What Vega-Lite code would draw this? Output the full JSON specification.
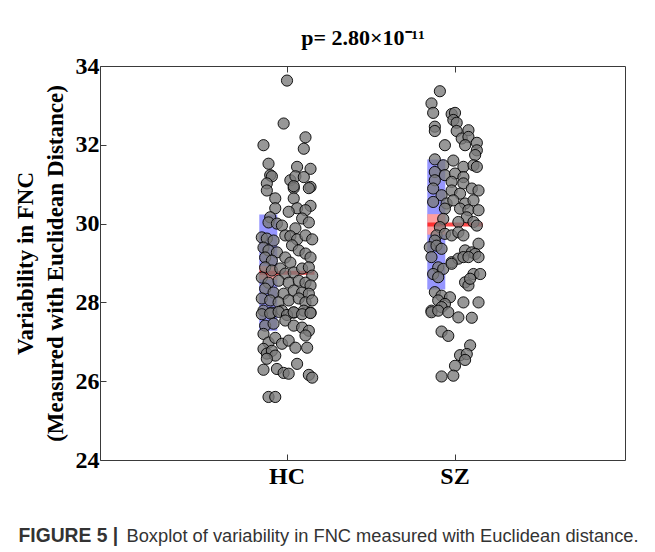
{
  "$schema": "https://vega.github.io/schema/vega-lite/v6.json",
  "width": 525,
  "height": 394,
  "autosize": {"type": "none"},
  "padding": {"left": 100, "top": 66, "right": 30, "bottom": 92},
  "background": "white",
  "config": {"view": {"stroke": "#3a3a3a", "strokeWidth": 1}, "font": "Liberation Serif"},
  "datasets": {
    "stats": [
      {"group": "HC", "mean": 28.75, "sd_lo": 27.28, "sd_hi": 30.23, "sem_lo": 28.58, "sem_hi": 28.92},
      {"group": "SZ", "mean": 29.98, "sd_lo": 28.33, "sd_hi": 31.63, "sem_lo": 29.72, "sem_hi": 30.24}
    ],
    "pts": [
      {"group": "HC", "jitter": 0.00, "value": 33.63},
      {"group": "HC", "jitter": -0.02, "value": 32.54},
      {"group": "HC", "jitter": -0.14, "value": 31.99},
      {"group": "HC", "jitter": 0.11, "value": 32.19},
      {"group": "HC", "jitter": 0.10, "value": 31.90},
      {"group": "HC", "jitter": -0.11, "value": 31.52},
      {"group": "HC", "jitter": -0.10, "value": 31.23},
      {"group": "HC", "jitter": -0.09, "value": 31.20},
      {"group": "HC", "jitter": 0.06, "value": 31.44},
      {"group": "HC", "jitter": 0.14, "value": 31.39},
      {"group": "HC", "jitter": 0.02, "value": 31.10},
      {"group": "HC", "jitter": 0.05, "value": 31.20},
      {"group": "HC", "jitter": 0.10, "value": 31.18},
      {"group": "HC", "jitter": -0.12, "value": 31.02},
      {"group": "HC", "jitter": 0.14, "value": 30.93},
      {"group": "HC", "jitter": 0.04, "value": 30.90},
      {"group": "HC", "jitter": -0.12, "value": 30.84},
      {"group": "HC", "jitter": -0.07, "value": 30.64},
      {"group": "HC", "jitter": 0.04, "value": 30.95},
      {"group": "HC", "jitter": 0.04, "value": 30.64},
      {"group": "HC", "jitter": 0.13, "value": 30.90},
      {"group": "HC", "jitter": -0.07, "value": 30.39},
      {"group": "HC", "jitter": -0.10, "value": 30.16},
      {"group": "HC", "jitter": 0.06, "value": 30.39},
      {"group": "HC", "jitter": 0.01, "value": 30.30},
      {"group": "HC", "jitter": 0.14, "value": 30.45},
      {"group": "HC", "jitter": 0.11, "value": 30.34},
      {"group": "HC", "jitter": -0.11, "value": 30.03},
      {"group": "HC", "jitter": -0.06, "value": 30.00},
      {"group": "HC", "jitter": -0.03, "value": 29.95},
      {"group": "HC", "jitter": 0.09, "value": 30.13},
      {"group": "HC", "jitter": 0.13, "value": 30.03},
      {"group": "HC", "jitter": 0.05, "value": 29.88},
      {"group": "HC", "jitter": -0.15, "value": 29.65},
      {"group": "HC", "jitter": -0.12, "value": 29.62},
      {"group": "HC", "jitter": -0.08, "value": 29.57},
      {"group": "HC", "jitter": -0.01, "value": 29.70},
      {"group": "HC", "jitter": 0.02, "value": 29.68},
      {"group": "HC", "jitter": 0.06, "value": 29.60},
      {"group": "HC", "jitter": 0.11, "value": 29.70},
      {"group": "HC", "jitter": 0.15, "value": 29.60},
      {"group": "HC", "jitter": -0.14, "value": 29.39},
      {"group": "HC", "jitter": -0.11, "value": 29.32},
      {"group": "HC", "jitter": -0.06, "value": 29.27},
      {"group": "HC", "jitter": -0.13, "value": 29.14},
      {"group": "HC", "jitter": -0.09, "value": 29.06},
      {"group": "HC", "jitter": 0.03, "value": 29.45},
      {"group": "HC", "jitter": 0.07, "value": 29.32},
      {"group": "HC", "jitter": 0.11, "value": 29.24},
      {"group": "HC", "jitter": 0.14, "value": 29.14},
      {"group": "HC", "jitter": -0.01, "value": 29.14},
      {"group": "HC", "jitter": 0.02, "value": 29.01},
      {"group": "HC", "jitter": -0.13, "value": 28.89},
      {"group": "HC", "jitter": -0.09, "value": 28.81},
      {"group": "HC", "jitter": -0.04, "value": 28.86},
      {"group": "HC", "jitter": -0.01, "value": 28.73},
      {"group": "HC", "jitter": 0.04, "value": 28.76},
      {"group": "HC", "jitter": 0.09, "value": 28.86},
      {"group": "HC", "jitter": 0.13, "value": 28.89},
      {"group": "HC", "jitter": 0.15, "value": 28.68},
      {"group": "HC", "jitter": -0.15, "value": 28.63},
      {"group": "HC", "jitter": -0.11, "value": 28.50},
      {"group": "HC", "jitter": -0.05, "value": 28.55},
      {"group": "HC", "jitter": 0.01, "value": 28.50},
      {"group": "HC", "jitter": 0.07, "value": 28.55},
      {"group": "HC", "jitter": 0.11, "value": 28.50},
      {"group": "HC", "jitter": 0.14, "value": 28.43},
      {"group": "HC", "jitter": -0.13, "value": 28.35},
      {"group": "HC", "jitter": -0.08, "value": 28.25},
      {"group": "HC", "jitter": -0.02, "value": 28.22},
      {"group": "HC", "jitter": 0.04, "value": 28.30},
      {"group": "HC", "jitter": 0.09, "value": 28.25},
      {"group": "HC", "jitter": 0.13, "value": 28.22},
      {"group": "HC", "jitter": -0.15, "value": 28.10},
      {"group": "HC", "jitter": -0.10, "value": 28.05},
      {"group": "HC", "jitter": -0.05, "value": 28.00},
      {"group": "HC", "jitter": 0.01, "value": 28.05},
      {"group": "HC", "jitter": 0.07, "value": 28.10},
      {"group": "HC", "jitter": 0.11, "value": 28.00},
      {"group": "HC", "jitter": 0.15, "value": 28.05},
      {"group": "HC", "jitter": -0.14, "value": 27.79},
      {"group": "HC", "jitter": -0.09, "value": 27.74},
      {"group": "HC", "jitter": -0.03, "value": 27.79},
      {"group": "HC", "jitter": 0.04, "value": 27.74},
      {"group": "HC", "jitter": 0.10, "value": 27.79},
      {"group": "HC", "jitter": 0.14, "value": 27.74},
      {"group": "HC", "jitter": -0.15, "value": 27.70},
      {"group": "HC", "jitter": -0.10, "value": 27.72},
      {"group": "HC", "jitter": -0.05, "value": 27.76},
      {"group": "HC", "jitter": 0.00, "value": 27.68},
      {"group": "HC", "jitter": 0.04, "value": 27.75},
      {"group": "HC", "jitter": 0.09, "value": 27.70},
      {"group": "HC", "jitter": 0.14, "value": 27.73},
      {"group": "HC", "jitter": -0.13, "value": 27.41},
      {"group": "HC", "jitter": -0.08, "value": 27.46},
      {"group": "HC", "jitter": -0.01, "value": 27.54},
      {"group": "HC", "jitter": 0.04, "value": 27.41},
      {"group": "HC", "jitter": 0.09, "value": 27.36},
      {"group": "HC", "jitter": 0.13, "value": 27.28},
      {"group": "HC", "jitter": -0.14, "value": 27.20},
      {"group": "HC", "jitter": -0.11, "value": 26.98},
      {"group": "HC", "jitter": -0.07, "value": 27.10},
      {"group": "HC", "jitter": -0.03, "value": 26.95},
      {"group": "HC", "jitter": 0.01, "value": 27.03},
      {"group": "HC", "jitter": 0.05, "value": 26.85},
      {"group": "HC", "jitter": 0.11, "value": 27.16},
      {"group": "HC", "jitter": 0.12, "value": 26.85},
      {"group": "HC", "jitter": -0.14, "value": 26.82},
      {"group": "HC", "jitter": -0.12, "value": 26.70},
      {"group": "HC", "jitter": -0.09, "value": 26.77},
      {"group": "HC", "jitter": -0.07, "value": 26.65},
      {"group": "HC", "jitter": -0.12, "value": 26.57},
      {"group": "HC", "jitter": 0.06, "value": 26.44},
      {"group": "HC", "jitter": -0.14, "value": 26.29},
      {"group": "HC", "jitter": -0.06, "value": 26.31},
      {"group": "HC", "jitter": -0.02, "value": 26.21},
      {"group": "HC", "jitter": 0.01, "value": 26.19},
      {"group": "HC", "jitter": 0.13, "value": 26.16},
      {"group": "HC", "jitter": 0.15, "value": 26.09},
      {"group": "HC", "jitter": -0.11, "value": 25.60},
      {"group": "HC", "jitter": -0.07, "value": 25.60},
      {"group": "SZ", "jitter": -0.09, "value": 33.36},
      {"group": "SZ", "jitter": -0.14, "value": 33.05},
      {"group": "SZ", "jitter": -0.13, "value": 32.81},
      {"group": "SZ", "jitter": -0.02, "value": 32.78},
      {"group": "SZ", "jitter": 0.00, "value": 32.81},
      {"group": "SZ", "jitter": -0.01, "value": 32.63},
      {"group": "SZ", "jitter": 0.01, "value": 32.56},
      {"group": "SZ", "jitter": -0.12, "value": 32.46},
      {"group": "SZ", "jitter": -0.12, "value": 32.35},
      {"group": "SZ", "jitter": 0.01, "value": 32.35},
      {"group": "SZ", "jitter": 0.08, "value": 32.37},
      {"group": "SZ", "jitter": 0.04, "value": 32.16},
      {"group": "SZ", "jitter": 0.08, "value": 32.20},
      {"group": "SZ", "jitter": -0.06, "value": 31.99},
      {"group": "SZ", "jitter": 0.06, "value": 31.99},
      {"group": "SZ", "jitter": 0.13, "value": 32.05},
      {"group": "SZ", "jitter": 0.13, "value": 31.86},
      {"group": "SZ", "jitter": 0.12, "value": 31.74},
      {"group": "SZ", "jitter": -0.12, "value": 31.63},
      {"group": "SZ", "jitter": -0.07, "value": 31.48},
      {"group": "SZ", "jitter": -0.01, "value": 31.60},
      {"group": "SZ", "jitter": 0.05, "value": 31.44},
      {"group": "SZ", "jitter": 0.11, "value": 31.48},
      {"group": "SZ", "jitter": -0.12, "value": 31.31},
      {"group": "SZ", "jitter": -0.06, "value": 31.23},
      {"group": "SZ", "jitter": 0.00, "value": 31.27},
      {"group": "SZ", "jitter": 0.05, "value": 31.18},
      {"group": "SZ", "jitter": 0.13, "value": 31.44},
      {"group": "SZ", "jitter": -0.12, "value": 31.10},
      {"group": "SZ", "jitter": -0.02, "value": 31.06},
      {"group": "SZ", "jitter": 0.05, "value": 31.02},
      {"group": "SZ", "jitter": -0.13, "value": 30.89},
      {"group": "SZ", "jitter": -0.08, "value": 30.72},
      {"group": "SZ", "jitter": -0.02, "value": 30.84},
      {"group": "SZ", "jitter": 0.03, "value": 30.76},
      {"group": "SZ", "jitter": 0.10, "value": 30.89},
      {"group": "SZ", "jitter": 0.14, "value": 30.84},
      {"group": "SZ", "jitter": -0.13, "value": 30.55},
      {"group": "SZ", "jitter": -0.05, "value": 30.51},
      {"group": "SZ", "jitter": -0.01, "value": 30.59},
      {"group": "SZ", "jitter": 0.06, "value": 30.51},
      {"group": "SZ", "jitter": 0.11, "value": 30.59},
      {"group": "SZ", "jitter": -0.06, "value": 30.38},
      {"group": "SZ", "jitter": 0.03, "value": 30.38},
      {"group": "SZ", "jitter": 0.08, "value": 30.34},
      {"group": "SZ", "jitter": 0.14, "value": 30.34},
      {"group": "SZ", "jitter": -0.07, "value": 30.12},
      {"group": "SZ", "jitter": -0.09, "value": 29.91},
      {"group": "SZ", "jitter": 0.07, "value": 30.16},
      {"group": "SZ", "jitter": 0.11, "value": 30.04},
      {"group": "SZ", "jitter": 0.13, "value": 29.95},
      {"group": "SZ", "jitter": 0.02, "value": 30.04},
      {"group": "SZ", "jitter": -0.11, "value": 29.70},
      {"group": "SZ", "jitter": -0.06, "value": 29.74},
      {"group": "SZ", "jitter": -0.02, "value": 29.70},
      {"group": "SZ", "jitter": 0.02, "value": 29.78},
      {"group": "SZ", "jitter": 0.05, "value": 29.70},
      {"group": "SZ", "jitter": -0.12, "value": 29.57},
      {"group": "SZ", "jitter": -0.15, "value": 29.40},
      {"group": "SZ", "jitter": -0.11, "value": 29.44},
      {"group": "SZ", "jitter": -0.08, "value": 29.36},
      {"group": "SZ", "jitter": 0.06, "value": 29.32},
      {"group": "SZ", "jitter": 0.10, "value": 29.27},
      {"group": "SZ", "jitter": 0.14, "value": 29.49},
      {"group": "SZ", "jitter": 0.12, "value": 29.23},
      {"group": "SZ", "jitter": -0.14, "value": 29.15},
      {"group": "SZ", "jitter": -0.02, "value": 29.02},
      {"group": "SZ", "jitter": 0.02, "value": 29.11},
      {"group": "SZ", "jitter": 0.05, "value": 29.15},
      {"group": "SZ", "jitter": 0.08, "value": 29.15},
      {"group": "SZ", "jitter": 0.14, "value": 29.15},
      {"group": "SZ", "jitter": -0.10, "value": 28.89},
      {"group": "SZ", "jitter": -0.07, "value": 28.85},
      {"group": "SZ", "jitter": -0.02, "value": 28.98},
      {"group": "SZ", "jitter": 0.11, "value": 28.72},
      {"group": "SZ", "jitter": 0.15, "value": 28.72},
      {"group": "SZ", "jitter": -0.13, "value": 28.72},
      {"group": "SZ", "jitter": -0.10, "value": 28.64},
      {"group": "SZ", "jitter": 0.06, "value": 28.51},
      {"group": "SZ", "jitter": 0.08, "value": 28.43},
      {"group": "SZ", "jitter": 0.09, "value": 28.60},
      {"group": "SZ", "jitter": -0.12, "value": 28.26},
      {"group": "SZ", "jitter": -0.08, "value": 28.17},
      {"group": "SZ", "jitter": -0.03, "value": 28.13},
      {"group": "SZ", "jitter": -0.10, "value": 28.05},
      {"group": "SZ", "jitter": -0.06, "value": 27.96},
      {"group": "SZ", "jitter": -0.14, "value": 27.79},
      {"group": "SZ", "jitter": -0.08, "value": 27.88},
      {"group": "SZ", "jitter": 0.05, "value": 28.00},
      {"group": "SZ", "jitter": 0.14, "value": 28.00},
      {"group": "SZ", "jitter": -0.14, "value": 27.75},
      {"group": "SZ", "jitter": -0.10, "value": 27.79},
      {"group": "SZ", "jitter": -0.04, "value": 27.75},
      {"group": "SZ", "jitter": 0.02, "value": 27.62},
      {"group": "SZ", "jitter": 0.10, "value": 27.61},
      {"group": "SZ", "jitter": -0.08, "value": 27.26},
      {"group": "SZ", "jitter": -0.04, "value": 27.15},
      {"group": "SZ", "jitter": 0.09, "value": 26.91},
      {"group": "SZ", "jitter": 0.03, "value": 26.66},
      {"group": "SZ", "jitter": 0.07, "value": 26.69},
      {"group": "SZ", "jitter": 0.06, "value": 26.54},
      {"group": "SZ", "jitter": 0.00, "value": 26.39},
      {"group": "SZ", "jitter": -0.08, "value": 26.12},
      {"group": "SZ", "jitter": -0.01, "value": 26.14}
    ]
  },
  "layer": [
    {
      "data": {"name": "stats"},
      "mark": {"type": "bar", "color": "#9696ff", "width": {"band": 0.33}},
      "encoding": {
        "x": {
          "field": "group", "type": "nominal",
          "scale": {"domain": ["HC", "SZ"], "paddingInner": 0, "paddingOuter": 0.5625, "align": 0.545},
          "axis": {
            "orient": "bottom", "labelAngle": 0, "domain": false, "grid": false,
            "tickSize": -6, "tickColor": "#3a3a3a",
            "labelFont": "Liberation Serif", "labelFontWeight": "bold", "labelFontSize": 24, "labelColor": "black", "labelPadding": 10,
            "title": "Boxplot of variability in FNC measured with Euclidean distance.",
            "titleFont": "Liberation Sans", "titleFontWeight": "normal", "titleFontSize": 18.3, "titleColor": "#333333",
            "titleX": 26, "titleY": 81, "titleAlign": "left", "titleBaseline": "alphabetic", "titleAnchor": null
          }
        },
        "y": {
          "field": "sd_lo", "type": "quantitative",
          "scale": {"domain": [24, 34], "nice": false, "zero": false},
          "axis": {
            "values": [24, 26, 28, 30, 32, 34], "domain": false, "grid": false,
            "tickSize": -6, "tickColor": "#3a3a3a",
            "labelFont": "Liberation Serif", "labelFontWeight": "bold", "labelFontSize": 24, "labelColor": "black", "labelPadding": 7,
            "title": ["Variability in FNC", "(Measured with Euclidean Distance)"],
            "titleFont": "Liberation Serif", "titleFontWeight": "bold", "titleFontSize": 23, "titleColor": "black",
            "titleLineHeight": 30, "titlePadding": 8
          }
        },
        "y2": {"field": "sd_hi"}
      }
    },
    {
      "data": {"name": "stats"},
      "mark": {"type": "bar", "color": "#ff9e9e", "width": {"band": 0.33}},
      "encoding": {
        "x": {
          "field": "group", "type": "nominal",
          "axis": {
            "orient": "top", "labels": false, "domain": false, "grid": false,
            "tickSize": -6, "tickColor": "#3a3a3a",
            "title": "p= 2.80×10⁻¹¹",
            "titleFont": "Liberation Serif", "titleFontWeight": "bold", "titleFontSize": 22, "titleColor": "black",
            "titlePadding": 16
          }
        },
        "y": {"field": "sem_lo", "type": "quantitative"},
        "y2": {"field": "sem_hi"}
      }
    },
    {
      "data": {"name": "stats"},
      "mark": {"type": "tick", "color": "#ff0000", "thickness": 4, "size": 55},
      "encoding": {
        "x": {
          "field": "group", "type": "nominal",
          "axis": {
            "orient": "bottom", "labels": false, "ticks": false, "domain": false, "grid": false,
            "title": "FIGURE 5 |",
            "titleFont": "Liberation Sans", "titleFontWeight": "bold", "titleFontSize": 19.3, "titleColor": "#333333",
            "titleX": -82, "titleY": 81, "titleAlign": "left", "titleBaseline": "alphabetic", "titleAnchor": null
          }
        },
        "y": {"field": "mean", "type": "quantitative"}
      }
    },
    {
      "data": {"name": "pts"},
      "mark": {"type": "circle", "size": 125, "fill": "#7a7a7a", "fillOpacity": 0.78, "stroke": "#000000", "strokeWidth": 1, "strokeOpacity": 0.9},
      "encoding": {
        "x": {"field": "group", "type": "nominal", "axis": null},
        "xOffset": {"field": "jitter", "type": "quantitative", "scale": {"domain": [-0.5, 0.5]}},
        "y": {"field": "value", "type": "quantitative"}
      }
    }
  ],
  "resolve": {"axis": {"x": "independent"}}
}
